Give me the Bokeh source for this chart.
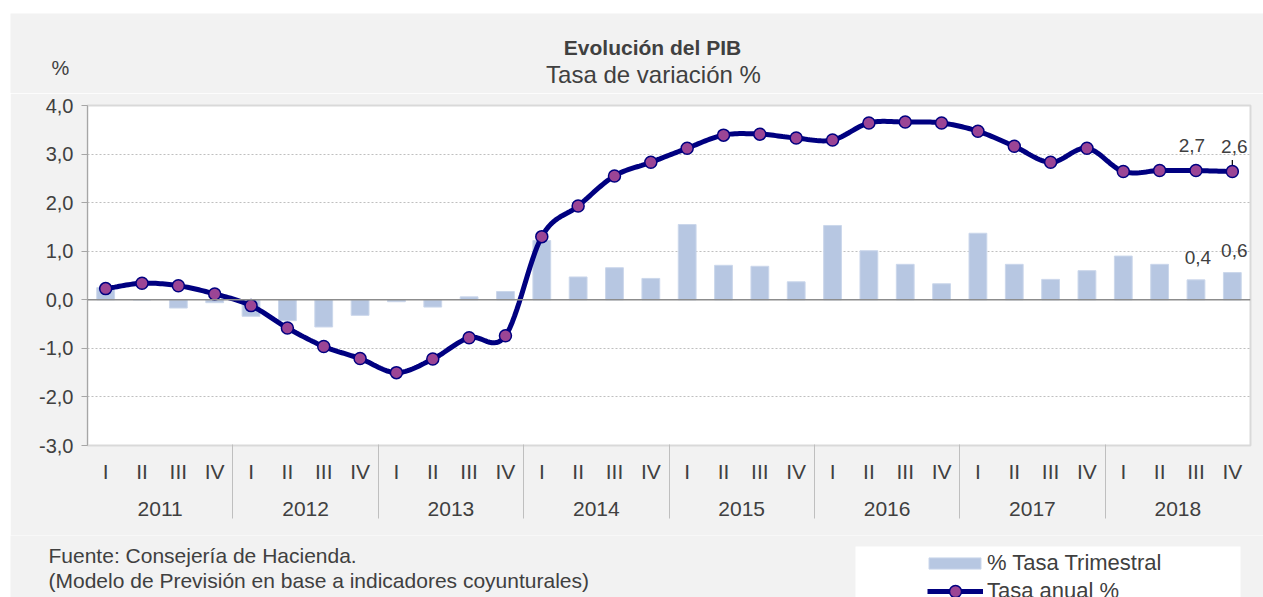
import numpy as np
from bokeh.plotting import figure
from bokeh.layouts import column, row
from bokeh.models import (FactorRange, ColumnDataSource, Label, Legend, LegendItem,
                          Span, BoxAnnotation, FixedTicker, Range1d, Spacer,
                          CategoricalAxis, CustomJSTickFormatter)
from bokeh.embed import file_html
from bokeh.resources import INLINE
from bokeh.core.properties import value

# ---------------- data ----------------
years = ["2011", "2012", "2013", "2014", "2015", "2016", "2017", "2018"]
quarters = ["I", "II", "III", "IV"]
tasa_trimestral = [0.25, 0.00, -0.17, -0.06,
                   -0.34, -0.43, -0.56, -0.32,
                   -0.04, -0.15, 0.06, 0.17,
                   1.22, 0.47, 0.66, 0.44,
                   1.55, 0.71, 0.69, 0.37,
                   1.53, 1.01, 0.73, 0.33,
                   1.37, 0.73, 0.42, 0.60,
                   0.90, 0.73, 0.41, 0.56]
tasa_anual = [0.23, 0.34, 0.29, 0.12,
              -0.12, -0.58, -0.96, -1.21,
              -1.50, -1.22, -0.78, -0.74,
              1.30, 1.93, 2.55, 2.83,
              3.12, 3.39, 3.41, 3.33,
              3.29, 3.64, 3.66, 3.64,
              3.47, 3.16, 2.83, 3.12,
              2.64, 2.66, 2.66, 2.64]
y_ticks = [-3, -2, -1, 0, 1, 2, 3, 4]
y_tick_labels = ["-3,0", "-2,0", "-1,0", "0,0", "1,0", "2,0", "3,0", "4,0"]
anual_labels = ["2,7", "2,6"]          # last two quarters
trimestral_labels = ["0,4", "0,6"]     # last two quarters
title_text = "Evolución del PIB"
subtitle_text = "Tasa de variación %"
y_unit = "%"
source_lines = ["Fuente: Consejería de Hacienda.",
                "(Modelo de Previsión en base a indicadores coyunturales)"]
legend_labels = ["% Tasa Trimestral", "Tasa anual %"]

# ---------------- styles ----------------
FONT = "Liberation Sans"
TXT = "#404040"
BAR = "#b7c7e2"
BAR_EDGE = "#cbd7eb"
LINE = "#000080"
MARK = "#9b4595"
BG = "#f2f2f2"
SEP = "#bfbfbf"
W = 1253

def blank_fig(h):
    f = figure(width=W, height=h, x_range=Range1d(0, W), y_range=Range1d(0, h),
               x_axis_location=None, y_axis_location=None,
               output_backend="svg", toolbar_location=None, frame_align=False,
               min_border=0, min_border_left=0, min_border_right=0,
               min_border_top=0, min_border_bottom=0,
               background_fill_color=BG, border_fill_color=BG)
    f.outline_line_color = None
    f.xgrid.grid_line_color = None
    f.ygrid.grid_line_color = None
    return f

def lab(f, text, x, y, size, style="normal", align="left"):
    f.add_layout(Label(x=x, y=y, text=text,
                       text_font=FONT, text_font_size=size, text_font_style=style,
                       text_color=TXT, text_align=align, text_baseline="middle"))

# ---------------- top (titles) ----------------
top = blank_fig(80)
lab(top, title_text, 642, 46, "21px", "bold", "center")
lab(top, subtitle_text, 643, 19, "24px", "normal", "center")
lab(top, y_unit, 50, 26, "20px", "normal", "center")

# ---------------- main chart ----------------
factors = [(y, q) for y in years for q in quarters]
quarter_keys = [f"{y} {q}" for y, q in factors]
sep_keys = [f"s{i}" for i in range(len(years) + 1)]   # year boundaries
src = ColumnDataSource(dict(x=factors, q=tasa_trimestral, a=tasa_anual))

# smoothed path (Catmull-Rom through the data points, in synthetic category coords)
xs_num = np.arange(len(tasa_anual)) + 0.5
ys_arr = np.array(tasa_anual, dtype=float)
px = np.concatenate([[2 * xs_num[0] - xs_num[1]], xs_num, [2 * xs_num[-1] - xs_num[-2]]])
py = np.concatenate([[2 * ys_arr[0] - ys_arr[1]], ys_arr, [2 * ys_arr[-1] - ys_arr[-2]]])
sx, sy = [], []
t = np.linspace(0, 1, 16, endpoint=False)
for i in range(1, len(px) - 2):
    for (arr, out) in ((px, sx), (py, sy)):
        a, b, c, d = arr[i - 1], arr[i], arr[i + 1], arr[i + 2]
        out.extend(0.5 * ((2 * b) + (-a + c) * t + (2 * a - 5 * b + 4 * c - d) * t ** 2
                          + (-a + 3 * b - 3 * c + d) * t ** 3))
sx.append(xs_num[-1]); sy.append(ys_arr[-1])

p = figure(x_range=FactorRange(*factors, range_padding=0, factor_padding=0, group_padding=0),
           y_range=Range1d(y_ticks[0], y_ticks[-1]), width=W, height=442,
           x_axis_location=None,
           output_backend="svg", toolbar_location=None, frame_align=False,
           min_border_left=77, min_border_right=13, min_border_top=12, min_border_bottom=90,
           background_fill_color="white", border_fill_color=BG)
p.outline_line_color = "#d9d9d9"
p.outline_line_width = 2

p.extra_x_ranges = {
    "qtr": FactorRange(*quarter_keys, range_padding=0, factor_padding=0),
    "yr": FactorRange(*years, range_padding=0, factor_padding=0),
    # boundary factors: negative padding puts the first/last centres on the frame edges
    "sep": FactorRange(*sep_keys, range_padding=-0.5, range_padding_units="absolute", factor_padding=0),
}

p.xgrid.visible = False
p.ygrid.ticker = FixedTicker(ticks=y_ticks)
p.ygrid.grid_line_color = "#bfbfbf"
p.ygrid.grid_line_dash = "2 2"
p.ygrid.grid_line_width = 1

p.yaxis.ticker = FixedTicker(ticks=y_ticks)
p.yaxis.major_label_overrides = {t_: l_ for t_, l_ in zip(y_ticks, y_tick_labels)}
p.yaxis.axis_line_color = "#a6a6a6"
p.yaxis.major_tick_line_color = "#a6a6a6"
p.yaxis.major_tick_out = 6
p.yaxis.major_tick_in = 0
p.yaxis.minor_tick_line_color = None
p.yaxis.major_label_text_font = FONT
p.yaxis.major_label_text_font_size = "20px"
p.yaxis.major_label_text_color = TXT
p.yaxis.major_label_standoff = 8

# quarter labels (factor "2011 I" shown as "I")
ax_q = CategoricalAxis(x_range_name="qtr",
                       formatter=CustomJSTickFormatter(code="return tick.split(' ')[1]"),
                       major_tick_line_color=None, axis_line_color="#d9d9d9",
                       major_label_text_font=FONT, major_label_text_font_size="21px",
                       major_label_text_color=TXT, major_label_standoff=8)
# year labels
ax_y = CategoricalAxis(x_range_name="yr",
                       major_tick_line_color=None, axis_line_color=None,
                       major_label_text_font=FONT, major_label_text_font_size="21px",
                       major_label_text_color=TXT, major_label_standoff=10)
# year separators (ticks at year boundaries, pointing up to the plot area)
ax_s = CategoricalAxis(x_range_name="sep",
                       formatter=CustomJSTickFormatter(code="return ''"),
                       major_label_text_font_size="10px", major_label_standoff=0,
                       axis_line_color=None, major_tick_line_color=SEP, major_tick_line_width=1,
                       major_tick_in=74, major_tick_out=0)
p.add_layout(ax_q, "below")
p.add_layout(ax_y, "below")
p.add_layout(ax_s, "below")

p.vbar(x="x", top="q", width=0.49, source=src, fill_color=BAR, line_color=BAR_EDGE, line_width=1)
p.add_layout(Span(location=0, dimension="width", line_color="#8c8c8c", line_width=1.5))

p.line(sx, sy, line_color=LINE, line_width=5)
# leader line for last label
p.segment(x0=[factors[-1]], y0=[tasa_anual[-1]], x1=[factors[-1]], y1=[tasa_anual[-1] + 0.24],
          line_color="black", line_width=1.2)
p.scatter(x="x", y="a", source=src, size=12, fill_color=MARK, line_color=LINE, line_width=1.5)

# data labels
p.text(x=factors[-2:], y=tasa_anual[-2:], text=anual_labels, x_offset=[-4, 2], y_offset=-25,
       text_font=value(FONT), text_font_size="19px", text_color=TXT,
       text_align="center", text_baseline="middle")
p.text(x=factors[-2:], y=tasa_trimestral[-2:], text=trimestral_labels, x_offset=[2, 2], y_offset=-22,
       text_font=value(FONT), text_font_size="19px", text_color=TXT,
       text_align="center", text_baseline="middle")

# ---------------- bottom (source + legend) ----------------
bot = blank_fig(62)
lab(bot, source_lines[0], 38, 42, "21px")
lab(bot, source_lines[1], 38, 17, "21px")
bot.add_layout(BoxAnnotation(left=845, right=1230, top=51, bottom=-20,
                             fill_color="white", fill_alpha=1, line_color=None))
# legend proxies (placed outside the visible range; only their legend glyphs show)
proxy = ColumnDataSource(dict(x=[-500, -400], y=[-500, -500]))
lb = bot.vbar(x="x", top="y", width=1, source=proxy, fill_color=BAR, line_color=BAR_EDGE, line_width=1)
ll = bot.line(x="x", y="y", source=proxy, line_color=LINE, line_width=5)
lm = bot.scatter(x="x", y="y", source=proxy, size=12, fill_color=MARK, line_color=LINE, line_width=1.5)
leg_common = dict(orientation="vertical", background_fill_alpha=0, border_line_color=None,
                  label_text_font=FONT, label_text_font_size="22px", label_text_color=TXT,
                  label_height=20, padding=5, margin=0)
bot.add_layout(Legend(items=[LegendItem(label=legend_labels[0], renderers=[lb])],
                      location=(912, 21), glyph_width=65, glyph_height=14, label_standoff=0,
                      **leg_common))
bot.add_layout(Legend(items=[LegendItem(label=legend_labels[1], renderers=[ll, lm])],
                      location=(917, -9), glyph_width=56, glyph_height=30, label_standoff=4,
                      **leg_common))

layout = column(Spacer(height=13),
                row(Spacer(width=10), column(top, p, bot, spacing=0), spacing=0),
                spacing=0)

open("out.html", "w").write(file_html(layout, INLINE))
